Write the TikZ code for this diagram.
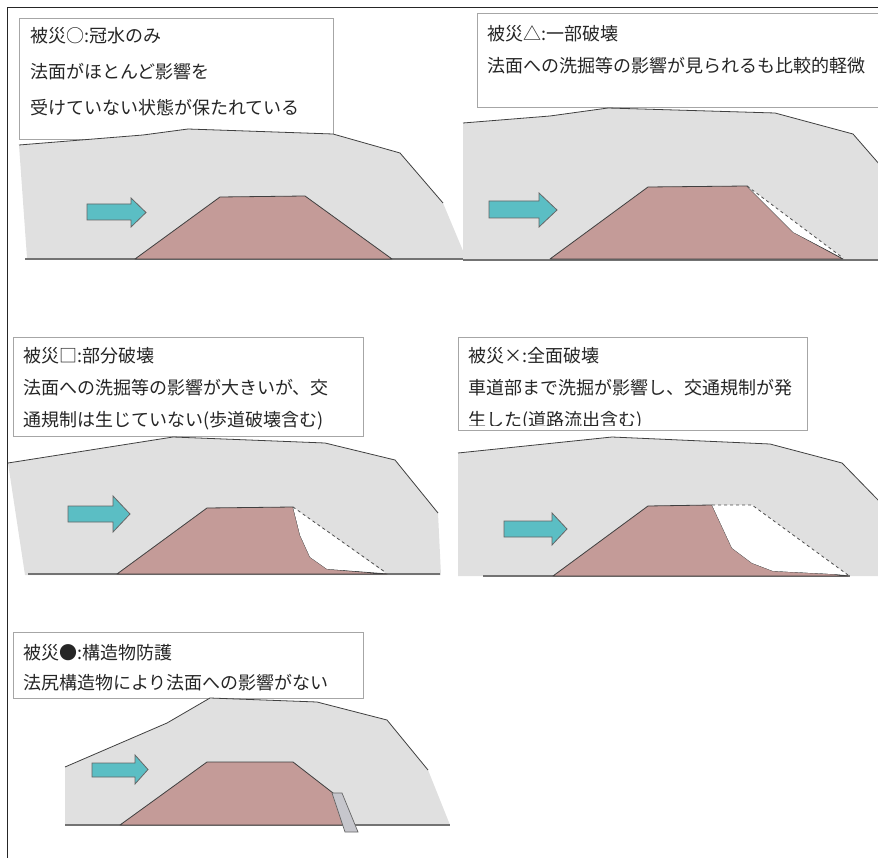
\documentclass[tikz,border=0pt]{standalone}
\usepackage{fontspec}
\newfontfamily\cjk{Noto Sans CJK JP}
\definecolor{floodgray}{HTML}{E0E0E0}
\definecolor{bankred}{HTML}{C49B98}
\definecolor{flowteal}{HTML}{5BBEC4}
\definecolor{wallgray}{HTML}{C6C6CC}

\begin{document}
\begin{tikzpicture}[x=1pt,y=-1pt,
    note/.style    = {draw=black!35,fill=white,line width=0.6pt,inner sep=0pt,anchor=north west},
    caption/.style = {font=\cjk\fontsize{18}{32}\selectfont,align=left,inner sep=0pt,anchor=north west,text=black!85},
    flood/.style   = {fill=floodgray},
    surface/.style = {draw=black!75,line width=0.8pt,line join=round},
    ground/.style  = {draw=black!55,line width=1.2pt},
    bank/.style    = {fill=bankred,draw=black!75,line width=0.8pt,line join=round},
    scour/.style   = {fill=white},
    slope/.style   = {draw=black!70,dash pattern=on 3pt off 3pt,line width=0.8pt},
    flow/.style    = {fill=flowteal,draw=black!60,line width=0.8pt},
    wall/.style    = {fill=wallgray,draw=black!60,line width=0.7pt}]
    \useasboundingbox (0,0) rectangle (878,858);
    \clip (0,0) rectangle (878,858);
    \draw[line width=1.8pt,black!85] (7.5,858) -- (7.5,7.5) -- (878,7.5);

    % 被災○ : 冠水のみ
    \node[note,minimum width=314pt,minimum height=121pt] (note1) at (19,18) {};
    \node[caption,font=\cjk\fontsize{18}{36}\selectfont] (text1) at (30,27)
        {被災○:冠水のみ\\法面がほとんど影響を\\受けていない状態が保たれている};
    \fill[flood] (19,145) -- (143,135) -- (188,129) -- (333,134) -- (400,153) -- (443,203)
        -- (466,258) -- (27,258) -- cycle;
    \draw[surface] (19,145) -- (143,135) -- (188,129) -- (333,134) -- (400,153) -- (443,203);
    \draw[ground] (25,259) -- (466,259);
    \filldraw[bank] (135,259) -- (220,197) -- (305,196) -- (392,259) -- cycle;
    \filldraw[flow] (87,204) -- (131,204) -- (131,198) -- (146,212.5) -- (131,227) -- (131,220)
        -- (87,220) -- cycle;

    % 被災△ : 一部破壊
    \node[note,minimum width=420pt,minimum height=94pt] (note2) at (477,13) {};
    \node[caption] (text2) at (487,25)
        {被災△:一部破壊\\法面への洗掘等の影響が見られるも比較的軽微};
    \fill[flood] (463,123) -- (550,116) -- (608,108) -- (775,113) -- (853,134) -- (880,165)
        -- (880,260) -- (463,260) -- cycle;
    \draw[surface] (463,123) -- (550,116) -- (608,108) -- (775,113) -- (853,134) -- (880,165);
    \draw[ground] (463,260) -- (878,260);
    \filldraw[bank] (550,259) -- (648,187) -- (747,186) -- (793,232) -- (843,259) -- cycle;
    \fill[scour] (747,186) -- (843,258) -- (793,232) -- cycle;
    \draw[slope] (747,186) -- (843,258);
    \filldraw[flow] (489,201) -- (539,201) -- (539,193) -- (557,210) -- (539,227) -- (539,218)
        -- (489,218) -- cycle;

    % 被災□ : 部分破壊
    \node[note,minimum width=350pt,minimum height=99pt] (note3) at (13,337) {};
    \node[caption] (text3) at (23,347)
        {被災□:部分破壊\\法面への洗掘等の影響が大きいが、交\\通規制は生じていない(歩道破壊含む)};
    \fill[flood] (8,463) -- (173,437) -- (325,443) -- (395,460) -- (438,513) -- (441,575)
        -- (25,575) -- cycle;
    \draw[surface] (8,463) -- (173,437) -- (325,443) -- (395,460) -- (438,513);
    \draw[ground] (28,574) -- (440,574);
    \filldraw[bank] (117,574) -- (207,508) -- (293,507) -- (300,535) -- (310,557) -- (327,569)
        -- (387,574) -- cycle;
    \fill[scour] (293,507) -- (385,573) -- (327,569) -- (310,557) -- (300,535) -- cycle;
    \draw[slope] (293,507) -- (385,572);
    \filldraw[flow] (68,506) -- (113,506) -- (113,496) -- (130,514) -- (113,532) -- (113,522)
        -- (68,522) -- cycle;

    % 被災× : 全面破壊 (last line cut off by the frame)
    \node[note,minimum width=349pt,minimum height=93pt] (note4) at (458,337) {};
    \begin{scope}
        \clip (note4.north west) rectangle ([yshift=5pt]note4.south east);
        \node[caption] (text4) at (468,347)
            {被災×:全面破壊\\車道部まで洗掘が影響し、交通規制が発\\生した(道路流出含む)};
    \end{scope}
    \fill[flood] (458,453) -- (612,437) -- (770,444) -- (842,463) -- (880,502) -- (880,576)
        -- (458,576) -- cycle;
    \draw[surface] (458,453) -- (612,437) -- (770,444) -- (842,463) -- (880,502);
    \draw[ground] (483,576) -- (850,576);
    \filldraw[bank] (553,576) -- (648,506) -- (712,505) -- (732,548) -- (752,563) -- (773,571)
        -- (833,574) -- (848,576) -- cycle;
    \fill[scour] (712,505) -- (752,505) -- (848,575) -- (833,574) -- (773,571) -- (752,563)
        -- (732,548) -- cycle;
    \draw[slope] (712,505) -- (752,505) -- (848,575);
    \filldraw[flow] (504,521) -- (552,521) -- (552,513) -- (567,529) -- (552,545) -- (552,537)
        -- (504,537) -- cycle;

    % 被災● : 構造物防護
    \node[note,minimum width=350pt,minimum height=66pt] (note5) at (13,632) {};
    \node[caption,font=\cjk\fontsize{18}{30}\selectfont] (text5) at (23,644)
        {被災●:構造物防護\\法尻構造物により法面への影響がない};
    \fill[flood] (65,767) -- (167,723) -- (210,698) -- (317,702) -- (387,720) -- (428,770)
        -- (450,825) -- (65,825) -- cycle;
    \draw[surface] (65,767) -- (167,723) -- (210,698) -- (317,702) -- (387,720) -- (428,770);
    \draw[ground] (65,825) -- (450,825);
    \filldraw[bank] (120,825) -- (207,762) -- (293,762) -- (333,793) -- (343,825) -- cycle;
    \filldraw[wall] (332,793) -- (342,793) -- (358,832) -- (345,832) -- cycle;
    \filldraw[flow] (92,763) -- (135,763) -- (135,755) -- (148,769.5) -- (135,784) -- (135,777)
        -- (92,777) -- cycle;
\end{tikzpicture}
\end{document}
